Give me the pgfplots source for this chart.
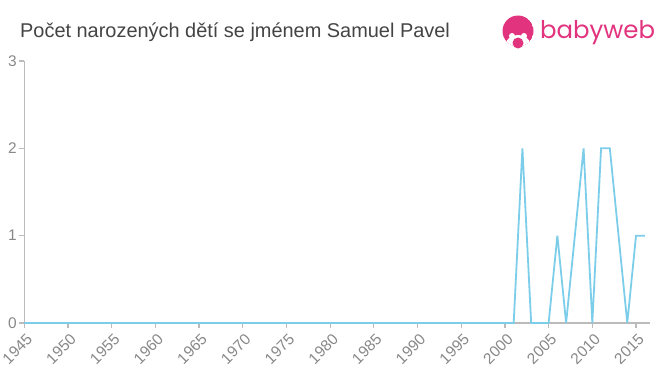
\documentclass[border=0pt]{standalone}
\usepackage{pgfplots}
\pgfplotsset{compat=1.18}
\usepackage{fontspec}
\setmainfont{Liberation Sans}
\newfontfamily\logofont{Poppins}
\definecolor{linec}{HTML}{7CCDEA}
\definecolor{axisc}{HTML}{BBBBBB}
\definecolor{tickc}{HTML}{888888}
\definecolor{titlec}{HTML}{444444}
\definecolor{pinkc}{HTML}{E2347E}
\newcommand{\tl}[1]{\fontsize{15.5}{16}\selectfont #1}
\begin{document}
\begin{tikzpicture}[x=1bp,y=1bp]
\useasboundingbox (0,0) rectangle (660,375);
\begin{axis}[
  at={(24.3bp,52bp)}, anchor=south west,
  scale only axis, width=625.7bp, height=262bp,
  xmin=1945, xmax=2016.6, ymin=0, ymax=3,
  axis x line*=bottom, axis y line*=left,
  axis line style={axisc, line width=1.2bp},
  xtick={1945,1950,...,2015}, ytick={0,1,2,3},
  xticklabels={\tl{1945},\tl{1950},\tl{1955},\tl{1960},\tl{1965},\tl{1970},\tl{1975},\tl{1980},\tl{1985},\tl{1990},\tl{1995},\tl{2000},\tl{2005},\tl{2010},\tl{2015}},
  yticklabels={\tl{0},\tl{1},\tl{2},\tl{3}},
  every tick label/.append style={text=tickc},
  x tick label style={rotate=45, anchor=east, inner sep=1bp, yshift=-10bp, xshift=-1.5bp},
  y tick label style={inner sep=2.5bp},
  tick style={axisc, line width=1.2bp},
  major tick length=5bp,
  tick align=outside,
  xtick pos=bottom, ytick pos=left,
  clip=false,
]
\addplot[linec, line width=1.8bp, line join=miter] coordinates {
(1945,0) (2001,0) (2002,2) (2003,0) (2004,0) (2005,0) (2006,1) (2007,0) (2008,1) (2009,2) (2010,0) (2011,2) (2012,2) (2013,1) (2014,0) (2015,1) (2016,1)
};
\end{axis}
\node[anchor=base west, text=titlec, font=\fontsize{20}{22}\selectfont, inner sep=0] at (20,338) {Počet narozených dětí se jménem Samuel Pavel};
\begin{scope}
\clip (518,344) circle (15.5);
\fill[pinkc] (518,344) circle (15.5);
\fill[white] (518,331) ellipse (12 and 9);
\fill[white] (512,339) circle (3);
\fill[white] (524,339) circle (3);
\end{scope}
\fill[pinkc] (518,332) circle (5.5);
\node[anchor=base west, text=pinkc, font=\logofont\fontsize{24.5}{26}\selectfont, inner sep=0] at (540,337) {babyweb};
\end{tikzpicture}
\end{document}
